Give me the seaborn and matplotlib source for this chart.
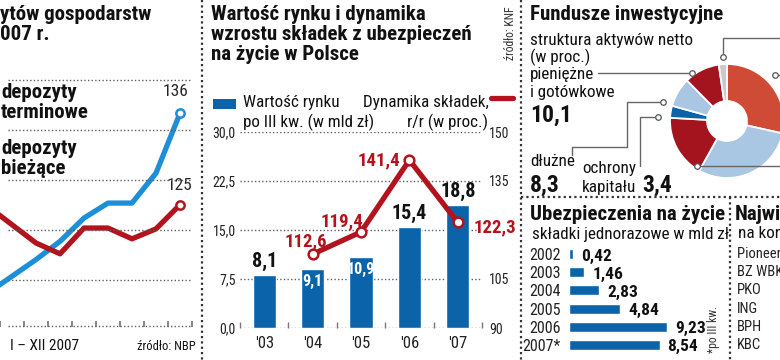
import numpy as np
import pandas as pd
import matplotlib
matplotlib.use("Agg")
import matplotlib.pyplot as plt
from matplotlib.lines import Line2D
from matplotlib.patches import Rectangle
import seaborn as sns

# ---- data -------------------------------------------------------------
# panel 1: deposits index, months IV-XII 2007 (I-III are off the crop)
months = [4, 5, 6, 7, 8, 9, 10, 11, 12]
dep_term = [114.4, 116.4, 118.4, 120.6, 123.4, 125.2, 125.2, 128.8, 136.0]
dep_curr = [124.8, 122.6, 120.4, 119.1, 122.2, 122.2, 120.9, 122.1, 125.0]
grid_p1 = [110.4, 116, 122, 128, 134, 140]

# panel 2: life insurance market
years_ins = ["'03", "'04", "'05", "'06", "'07"]
market_value = [8.1, 9.1, 10.9, 15.4, 18.8]
premium_dyn = [np.nan, 112.6, 119.4, 141.4, 122.3]
left_ticks = [0.0, 7.5, 15.0, 22.5, 30.0]
right_ticks = [90, 105, 120, 135, 150]
right_labels = ["90", "105", "", "135", "150"]  # 120 hidden under the 122,3 label

# panel 3: investment funds, net asset structure (clockwise from top)
fund_share = [28.5, 29.6, 17.8, 3.4, 8.3, 10.1, 2.3]
fund_colors = ["#cf4b35", "#a9c6e2", "#a3141f", "#0b64a9", "#a9c6e2", "#a3141f", "#c9c9cc"]

# panel 4: single premiums
years_single = ["2002", "2003", "2004", "2005", "2006", "2007*"]
single_prem = [0.42, 1.46, 2.83, 4.84, 9.23, 8.54]

# panel 5: fund companies (cut off)
tfi_names = ["Pioneer P", "BZ WBK", "PKO", "ING", "BPH", "KBC"]

BLUE_LINE = "#1c8fd8"
RED = "#b3131d"
BAR_BLUE = "#0b64a9"
W, H = 780, 360
TITLE = 15
BODY = 12.3

sns.set_theme(style="white")
plt.rcParams["font.family"] = ["Liberation Sans Narrow", "Roboto Condensed", "Roboto", "DejaVu Sans"]
plt.rcParams["axes.facecolor"] = "none"

fig = plt.figure(figsize=(W / 100, H / 100), dpi=100)
fig.patch.set_facecolor("white")


def add_ax(x0, y0, x1, y1):
    return fig.add_axes([x0 / W, 1 - y1 / H, (x1 - x0) / W, (y1 - y0) / H])


def ftext(x, y, s, **kw):
    kw.setdefault("va", "center")
    kw.setdefault("color", "#111111")
    return fig.text(x / W, 1 - y / H, s, **kw)


def fline(xs, ys, **kw):
    fig.add_artist(Line2D([x / W for x in xs], [1 - y / H for y in ys],
                          transform=fig.transFigure, **kw))


def clean(ax):
    for s in ax.spines.values():
        s.set_visible(False)


DOT = dict(color="#333333", lw=1.6, linestyle=(0, (1, 1.4)))
GRID = dict(color="#5f5f5f", lw=1.0, linestyle=(0, (1, 1.6)))

# ---- panel 1 ----------------------------------------------------------
ax1 = add_ax(0, 70, 192, 327)
clean(ax1)
sns.lineplot(x=months, y=dep_term, ax=ax1, color=BLUE_LINE, linewidth=3.8, zorder=3)
sns.lineplot(x=months, y=dep_curr, ax=ax1, color=RED, linewidth=3.8, zorder=3)
ax1.plot(months[-1], dep_term[-1], "o", ms=6, mfc="white", mec=BLUE_LINE, mew=1.8, zorder=4)
ax1.plot(months[-1], dep_curr[-1], "o", ms=6, mfc="white", mec=RED, mew=1.8, zorder=4)
ax1.set_xlim(4.82, 12.5)
ax1.set_ylim(110.3, 141.2)
ax1.set_xticks(np.arange(4.5, 13, 1))
ax1.tick_params(axis="x", direction="in", length=4, color="#777777", labelbottom=False, bottom=True)
ax1.set_yticks([])
ax1.set_xlabel("")
ax1.annotate("136", (months[-1], dep_term[-1]), xytext=(-4, 14), textcoords="offset pixels",
             ha="center", va="bottom", fontsize=12.5)
ax1.annotate("125", (months[-1], dep_curr[-1]), xytext=(0, 12), textcoords="offset pixels",
             ha="center", va="bottom", fontsize=12.5)
# dotted grid drawn at figure level through the axes' data transform
for g in grid_p1:
    fig.add_artist(Line2D([4.82, 12.45], [g, g], transform=ax1.transData, zorder=0.5, **GRID))

ftext(0, 14, "ytów gospodarstw", fontsize=TITLE, fontweight="bold")
ftext(0, 34, "007 r.", fontsize=TITLE, fontweight="bold")
ftext(1, 93, "depozyty", fontsize=15, fontweight="bold")
ftext(1, 113, "terminowe", fontsize=15, fontweight="bold")
ftext(1, 148, "depozyty", fontsize=15, fontweight="bold")
ftext(1, 168, "bieżące", fontsize=15, fontweight="bold")
ftext(10, 346, "I – XII 2007", fontsize=11)
ftext(196, 347, "źródło: NBP", fontsize=9, ha="right")

# ---- panel 2 ----------------------------------------------------------
ax2 = add_ax(240, 132, 482, 328)
clean(ax2)
df2 = pd.DataFrame({"year": years_ins, "value": market_value, "dyn": premium_dyn})
sns.barplot(data=df2, x="year", y="value", ax=ax2, color=BAR_BLUE, width=0.48, saturation=1)
ax2.set_xlim(-0.5, 4.5)
ax2.set_ylim(0, 30)
ax2.set_yticks(left_ticks)
ax2.set_yticklabels([f"{t:.1f}".replace(".", ",") for t in left_ticks], fontsize=10, color="#222222")
for t in left_ticks:
    ax2.axhline(t, zorder=0, **GRID)
ax2.set_xticks(range(len(years_ins)))
ax2.set_xticklabels(years_ins, fontsize=12, color="#222222")
ax2.set_xticks(np.arange(-0.5, 5, 1), minor=True)
ax2.tick_params(axis="x", which="major", length=0, pad=6)
ax2.tick_params(axis="x", which="minor", direction="in", length=4, color="#777777", bottom=True)
ax2.tick_params(axis="y", length=0, pad=3)
ax2.set_xlabel("")
ax2.set_ylabel("")
for i, v in enumerate(market_value):
    lab = f"{v:.1f}".replace(".", ",")
    if i in (1, 2):
        ax2.annotate(lab, (i, v), xytext=(0, -13), textcoords="offset pixels", ha="center",
                     va="center", fontsize=11.5, fontweight="bold", color="white")
    else:
        ax2.annotate(lab, (i, v), xytext=(0, 4), textcoords="offset pixels", ha="center",
                     va="bottom", fontsize=14.5, fontweight="bold", color="#111111")

ax2r = ax2.twinx()
clean(ax2r)
ax2r.set_ylim(90, 150)
ax2r.set_yticks(right_ticks)
ax2r.set_yticklabels(right_labels, fontsize=10, color="#222222")
ax2r.tick_params(axis="y", length=0, pad=5)
xs = np.arange(len(years_ins))
sns.lineplot(x=xs, y=premium_dyn, ax=ax2r, color=RED, linewidth=3.8)
ax2r.plot(xs, premium_dyn, "o", ms=7, mfc="white", mec=RED, mew=1.8, ls="none")
ax2r.set_xlim(-0.5, 4.5)
offsets = {1: (-7, 13), 2: (-19, 11), 3: (-31, 0), 4: (37, -5)}
for i, (dx, dy) in offsets.items():
    ax2r.annotate(f"{premium_dyn[i]:.1f}".replace(".", ","), (i, premium_dyn[i]), xytext=(dx, dy),
                  textcoords="offset pixels", ha="center", va="center", fontsize=13.5,
                  fontweight="bold", color=RED)

ftext(211, 15, "Wartość rynku i dynamika", fontsize=TITLE, fontweight="bold")
ftext(211, 35, "wzrostu składek z ubezpieczeń", fontsize=TITLE, fontweight="bold")
ftext(211, 55, "na życie w Polsce", fontsize=TITLE, fontweight="bold")
fig.add_artist(Rectangle((213 / W, 1 - 109 / H), 23 / W, 10 / H, transform=fig.transFigure,
                         color=BAR_BLUE, lw=0))
ftext(243, 103, "Wartość rynku", fontsize=BODY)
ftext(243, 122, "po III kw. (w mld zł)", fontsize=BODY)
ftext(489, 103, "Dynamika składek,", fontsize=BODY, ha="right")
ftext(488, 122, "r/r (w proc.)", fontsize=BODY, ha="right")
fline([491, 513], [98, 98], color=RED, lw=3.8, solid_capstyle="round")

# ---- panel 3 ----------------------------------------------------------
ax3 = add_ax(670, 64, 784, 178)
ax3.pie(fund_share, colors=fund_colors, startangle=90, counterclock=False, radius=1,
        wedgeprops=dict(width=0.65, edgecolor="white", linewidth=1.3))
ax3.set_xlim(-1, 1)
ax3.set_ylim(-1, 1)
ax3.set_aspect("equal")

ftext(510, 33, "źródło: KNF", fontsize=8.5, rotation=90, ha="center", color="#333333")
ftext(530, 14, "Fundusze inwestycyjne", fontsize=TITLE, fontweight="bold")
ftext(530, 40, "struktura aktywów netto", fontsize=BODY)
ftext(530, 57, "(w proc.)", fontsize=BODY)
ftext(530, 75, "pieniężne", fontsize=BODY)
ftext(530, 92, "i gotówkowe", fontsize=BODY)
ftext(530, 115, "10,1", fontsize=17, fontweight="bold")
ftext(530, 162, "dłużne", fontsize=BODY)
ftext(530, 185, "8,3", fontsize=17, fontweight="bold")
ftext(582, 169, "ochrony", fontsize=BODY)
ftext(582, 187, "kapitału", fontsize=BODY)
ftext(642, 185, "3,4", fontsize=17, fontweight="bold")

LEAD = dict(color="#666666", lw=1.0)
fline([598, 692], [73, 73], **LEAD)
fline([572, 572, 627, 627, 663], [155, 147, 147, 102, 102], **LEAD)
fline([640, 640, 658], [166, 117, 117], **LEAD)
fline([723, 723, 780], [57, 38, 38], **LEAD)
fline([775, 780], [75, 75], **LEAD)
fline([697, 780], [166, 166], **LEAD)
for cx, cy in [(692, 73), (663, 102), (658, 117), (723, 57), (775, 75), (697, 166)]:
    fig.add_artist(Line2D([cx / W], [1 - cy / H], transform=fig.transFigure, marker="o", ms=4,
                          mfc="white", mec="#555555", mew=0.9, ls="none"))

# ---- panel 4 ----------------------------------------------------------
ax4 = add_ax(569, 245, 700, 354)
clean(ax4)
df4 = pd.DataFrame({"year": years_single, "prem": single_prem})
sns.barplot(data=df4, x="prem", y="year", ax=ax4, color=BAR_BLUE, orient="h", width=0.55,
            saturation=1)
ax4.set_xlim(0, 12.36)
ax4.set_xticks([])
ax4.set_xlabel("")
ax4.set_ylabel("")
ax4.set_yticks(range(len(years_single)))
ax4.set_yticklabels(years_single, fontsize=11.5, color="#222222")
ax4.tick_params(axis="y", length=0, pad=6)
for i, v in enumerate(single_prem):
    ax4.annotate(f"{v:.2f}".replace(".", ","), (v, i), xytext=(8, -2), textcoords="offset pixels",
                 ha="left", va="center", fontsize=12.5, fontweight="bold", color="#111111")

ftext(530, 215, "Ubezpieczenia na życie", fontsize=TITLE, fontweight="bold")
ftext(532, 234, "składki jednorazowe w mld zł", fontsize=BODY)
ftext(714, 329, "*po III kw.", fontsize=8.5, rotation=90, ha="center", color="#333333")

# ---- panel 5 ----------------------------------------------------------
ftext(735, 215, "Najwie", fontsize=TITLE, fontweight="bold")
ftext(738, 234, "na koni", fontsize=BODY)
for i, name in enumerate(tfi_names):
    ftext(737, 254 + i * 18.2, name, fontsize=10.5, color="#222222")

# ---- separators ---------------------------------------------------------
fline([202, 202], [0, 360], **DOT)
fline([521, 521], [0, 360], **DOT)
fline([521, 780], [197, 197], **DOT)
fline([730, 730], [197, 360], **DOT)

fig.savefig("out.png", dpi=100)
